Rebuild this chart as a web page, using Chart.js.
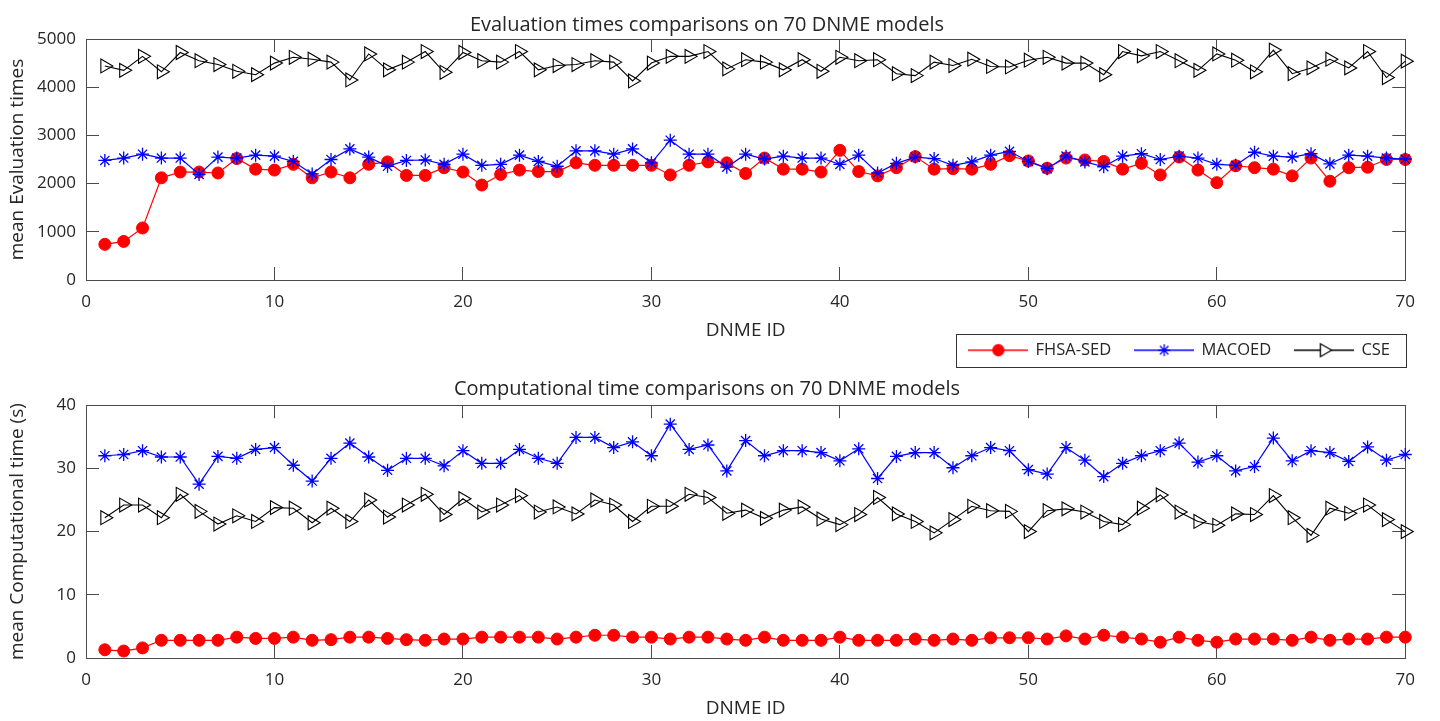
<!DOCTYPE html>
<html>
<head>
<meta charset="utf-8">
<script src="https://cdn.jsdelivr.net/npm/chart.js@4.4.1/dist/chart.umd.min.js"></script>
<style>
  html, body { margin: 0; padding: 0; background: #fff; }
  #wrap { position: relative; width: 1440px; height: 721px; }
  .panel { position: absolute; left: 0; width: 1440px; }
</style>
</head>
<body>
<div id="wrap">
  <div class="panel" style="top:0;height:372px"><canvas id="evalChart" width="1440" height="372"></canvas></div>
  <div class="panel" style="top:372px;height:349px"><canvas id="timeChart" width="1440" height="349"></canvas></div>
</div>
<script>
const dnmeIds = [1,2,3,4,5,6,7,8,9,10,11,12,13,14,15,16,17,18,19,20,21,22,23,24,25,26,27,28,29,30,
  31,32,33,34,35,36,37,38,39,40,41,42,43,44,45,46,47,48,49,50,51,52,53,54,55,56,57,58,59,60,
  61,62,63,64,65,66,67,68,69,70]

// mean evaluation times
const evalFhsa = [740,800,1080,2120,2240,2240,2220,2520,2300,2280,2400,2120,2240,2120,2400,2450,2170,2170,2330,2240,
  1970,2190,2280,2250,2250,2430,2380,2380,2380,2380,2180,2380,2450,2430,2210,2530,2300,2300,2240,2690,
  2250,2160,2330,2560,2300,2310,2300,2400,2580,2470,2320,2530,2490,2460,2300,2420,2180,2550,2280,2020,
  2370,2330,2300,2160,2530,2050,2330,2340,2500,2500]
const evalMacoed = [2480,2530,2610,2530,2530,2190,2550,2530,2590,2570,2460,2200,2500,2720,2550,2360,2480,2490,2400,2610,
  2380,2400,2590,2460,2360,2680,2680,2610,2720,2430,2900,2610,2610,2340,2610,2510,2570,2530,2530,2400,
  2590,2220,2420,2550,2520,2380,2450,2590,2670,2460,2310,2570,2450,2350,2570,2620,2500,2570,2530,2400,
  2380,2650,2570,2550,2620,2410,2590,2570,2530,2510]
const evalCse = [4440,4350,4640,4320,4720,4550,4470,4330,4260,4500,4620,4580,4520,4150,4690,4360,4520,4740,4310,4720,
  4550,4520,4740,4360,4450,4470,4550,4520,4130,4500,4640,4640,4740,4380,4570,4520,4360,4570,4330,4620,
  4550,4570,4280,4240,4520,4450,4580,4430,4420,4560,4620,4500,4500,4260,4740,4650,4740,4550,4350,4690,
  4560,4320,4770,4280,4400,4580,4400,4740,4200,4540]

// mean computational time (s)
const timeFhsa = [1.3,1.1,1.6,2.8,2.8,2.8,2.8,3.3,3.1,3.1,3.3,2.8,2.9,3.3,3.3,3.1,2.9,2.8,3.0,3.0,
  3.3,3.3,3.3,3.3,3.0,3.3,3.6,3.6,3.3,3.3,3.0,3.3,3.3,3.0,2.8,3.3,2.8,2.8,2.8,3.3,
  2.8,2.8,2.8,3.0,2.8,3.0,2.8,3.2,3.2,3.2,3.0,3.5,3.0,3.6,3.3,3.0,2.5,3.3,2.8,2.5,
  3.0,3.0,3.0,2.8,3.3,2.8,3.0,3.0,3.3,3.3]
const timeMacoed = [32.0,32.2,32.8,31.8,31.8,27.5,31.9,31.6,33.0,33.3,30.5,28.0,31.6,34.0,31.8,29.7,31.6,31.6,30.4,32.8,
  30.8,30.8,33.0,31.6,30.8,34.9,34.9,33.3,34.2,32.0,37.0,33.0,33.7,29.6,34.4,32.0,32.8,32.8,32.5,31.2,
  33.1,28.4,31.9,32.5,32.5,30.1,32.0,33.3,32.8,29.8,29.1,33.3,31.3,28.7,30.8,32.0,32.8,34.0,31.0,32.0,
  29.6,30.3,34.8,31.2,32.8,32.5,31.1,33.4,31.3,32.2]
const timeCse = [22.2,24.2,24.2,22.2,25.9,23.2,21.2,22.5,21.6,23.8,23.7,21.4,23.7,21.6,25.0,22.3,24.2,25.9,22.7,25.2,
  23.1,24.2,25.7,23.1,23.9,22.8,25.0,24.2,21.6,24.0,24.0,25.9,25.4,22.9,23.4,22.1,23.4,23.9,22.0,21.1,
  22.7,25.4,22.8,21.6,19.8,21.9,24.0,23.3,23.2,20.0,23.3,23.6,23.1,21.6,21.1,23.7,25.8,23.1,21.6,21.0,
  22.8,22.7,25.7,22.2,19.4,23.7,22.9,24.2,21.9,20.0]

const FONT = "'Open Sans', 'Noto Sans', sans-serif"
const TEXT = '#262626'
const AXIS = '#4a4a4a'

Chart.defaults.font.family = FONT
Chart.defaults.color = TEXT

function toPoints(values){
  return values.map((v, i) => ({x: dnmeIds[i], y: v}))
}

function seriesSet(values){
  return [
    {
      label: 'FHSA-SED',
      data: toPoints(values[0]),
      borderColor: '#ff0000',
      backgroundColor: '#ff0000',
      borderWidth: 1.2,
      pointStyle: 'circle',
      pointRadius: 6,
      pointBorderWidth: 1,
      pointBackgroundColor: '#ff0000',
      pointBorderColor: '#ff0000',
      order: 3,
      clip: false,
    },
    {
      label: 'MACOED',
      data: toPoints(values[1]),
      borderColor: '#0000ff',
      backgroundColor: '#0000ff',
      borderWidth: 1.2,
      pointStyle: 'star',
      pointRadius: 6.5,
      pointBorderWidth: 1.3,
      pointBorderColor: '#0000ff',
      order: 2,
      clip: false,
    },
    {
      label: 'CSE',
      data: toPoints(values[2]),
      borderColor: '#000000',
      backgroundColor: 'rgba(0,0,0,0)',
      borderWidth: 1.1,
      pointStyle: 'triangle',
      pointRotation: 90,
      pointRadius: 8,
      pointBorderWidth: 1.1,
      pointBorderColor: '#000000',
      pointBackgroundColor: 'rgba(0,0,0,0)',
      order: 1,
      clip: false,
    }
  ]
}

function axisScales(yMax, yStep, yTitle, xHeight, xTitlePad){
  const tickFont = {family: FONT, size: 17}
  const titleFont = {family: FONT, size: 19}
  const grid = {drawOnChartArea: false, drawTicks: true, tickLength: -13, color: AXIS, lineWidth: 1}
  const border = {display: true, color: AXIS, width: 1}
  const plain = (v) => String(v)
  return {
    x: {
      type: 'linear', position: 'bottom', min: 0, max: 70,
      ticks: {stepSize: 10, font: tickFont, color: TEXT, padding: 25, maxRotation: 0, autoSkip: false, callback: plain},
      grid: grid, border: border,
      title: {display: true, text: 'DNME ID', font: titleFont, color: TEXT, padding: {top: 0, bottom: xTitlePad}},
      afterFit: (s) => { s.height = xHeight }
    },
    xTop: {
      type: 'linear', position: 'top', min: 0, max: 70,
      ticks: {stepSize: 10, display: false},
      grid: grid, border: border,
      afterFit: (s) => { s.height = 0 }
    },
    y: {
      type: 'linear', position: 'left', min: 0, max: yMax,
      ticks: {stepSize: yStep, font: tickFont, color: TEXT, padding: 23, callback: plain},
      grid: grid, border: border,
      title: {display: true, text: yTitle, font: titleFont, color: TEXT, padding: {top: 6.6, bottom: 0}},
      afterFit: (s) => { s.width = 86 }
    },
    yRight: {
      type: 'linear', position: 'right', min: 0, max: yMax,
      ticks: {stepSize: yStep, display: false},
      grid: grid, border: border,
      afterFit: (s) => { s.width = 0 }
    }
  }
}

// legend keys: line with the marker in the middle, as in the figure
function legendIcon(color, style, radius, fill, rotation){
  const c = document.createElement('canvas')
  c.width = 60
  c.height = 20
  const ctx = c.getContext('2d')
  ctx.strokeStyle = color
  ctx.lineWidth = 1.3
  ctx.beginPath()
  ctx.moveTo(0, 10)
  ctx.lineTo(60, 10)
  ctx.stroke()
  ctx.fillStyle = fill
  if (Chart.helpers && Chart.helpers.drawPoint) {
    Chart.helpers.drawPoint(ctx, {pointStyle: style, radius: radius, rotation: rotation, borderWidth: 1.3}, 30, 10)
  }
  return c
}
const legendIcons = [
  legendIcon('#ff0000', 'circle', 5.5, '#ff0000', 0),
  legendIcon('#0000ff', 'star', 6, '#0000ff', 0),
  legendIcon('#000000', 'triangle', 7.5, '#ffffff', 90),
]

const legendFrame = {
  id: 'legendFrame',
  afterDraw(chart){
    const boxes = chart.legend && chart.legend.legendHitBoxes
    if (!boxes || !boxes.length) return
    const first = boxes[0]
    const last = boxes[boxes.length - 1]
    const ctx = chart.ctx
    ctx.save()
    ctx.strokeStyle = '#333333'
    ctx.lineWidth = 1
    const left = Math.round(first.left - 13) + 0.5
    const right = Math.round(last.left + last.width + 16) + 0.5
    const top = Math.round(first.top - 8) + 0.5
    const bottom = Math.round(first.top + first.height + 8) + 0.5
    ctx.strokeRect(left, top, right - left, bottom - top)
    ctx.restore()
  }
}

const evalChart = new Chart(document.getElementById('evalChart'), {
  type: 'line',
  data: { datasets: seriesSet([evalFhsa, evalMacoed, evalCse]) },
  options: {
    responsive: false,
    animation: false,
    events: [],
    layout: { padding: {left: 0, right: 26, top: 0, bottom: 3.5} },
    scales: axisScales(5000, 1000, 'mean Evaluation times', 38, -24.4),
    plugins: {
      title: {
        display: true,
        text: 'Evaluation times comparisons on 70 DNME models',
        font: {family: FONT, size: 20, weight: 'normal'},
        color: TEXT,
        padding: {top: 13, bottom: 2}
      },
      legend: {
        display: true,
        position: 'bottom',
        align: 'end',
        labels: {
          usePointStyle: true,
          pointStyleWidth: 58,
          padding: 24,
          color: TEXT,
          font: {family: FONT, size: 16.5},
          sort: (a, b) => a.datasetIndex - b.datasetIndex,
          generateLabels(chart){
            const items = Chart.defaults.plugins.legend.labels.generateLabels(chart)
            return items.map((item) => Object.assign(item, {pointStyle: legendIcons[item.datasetIndex], rotation: 0}))
          }
        }
      },
      tooltip: {enabled: false}
    }
  },
  plugins: [legendFrame]
})

const timeChart = new Chart(document.getElementById('timeChart'), {
  type: 'line',
  data: { datasets: seriesSet([timeFhsa, timeMacoed, timeCse]) },
  options: {
    responsive: false,
    animation: false,
    events: [],
    layout: { padding: {left: 0, right: 26, top: 0, bottom: 0} },
    scales: axisScales(40, 10, 'mean Computational time (s)', 63, 0.6),
    plugins: {
      title: {
        display: true,
        text: 'Computational time comparisons on 70 DNME models',
        font: {family: FONT, size: 20, weight: 'normal'},
        color: TEXT,
        padding: {top: 5.2, bottom: 3.8}
      },
      legend: {display: false},
      tooltip: {enabled: false}
    }
  }
})
</script>
</body>
</html>
